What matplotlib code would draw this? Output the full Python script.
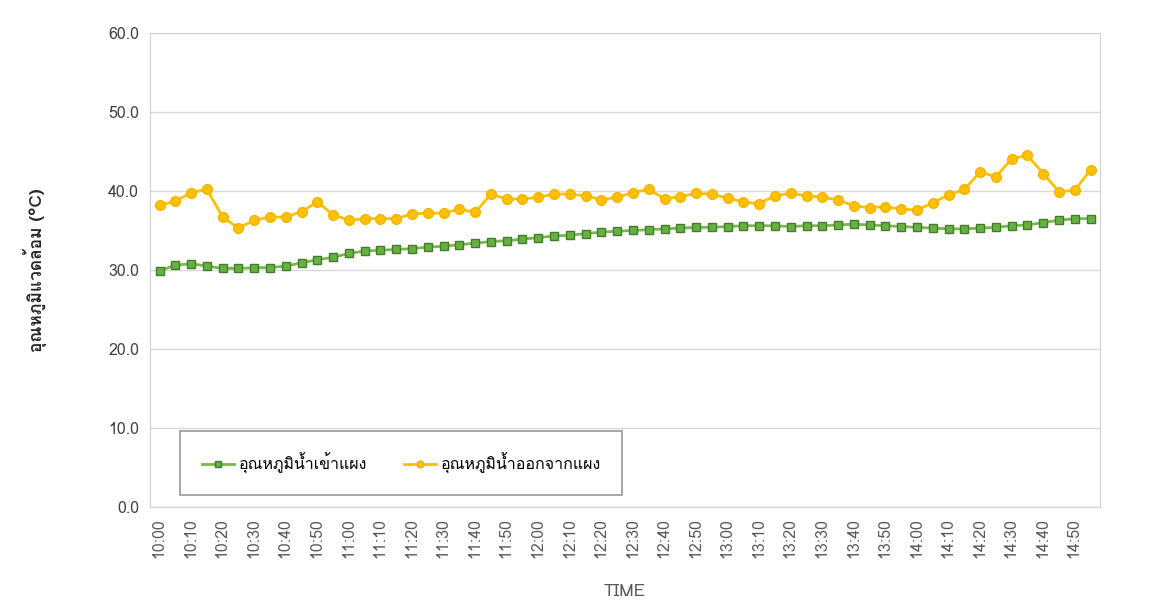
import numpy as np
import matplotlib
matplotlib.use("Agg")
import matplotlib.pyplot as plt
from matplotlib import font_manager
from matplotlib.ft2font import FT2Font

# time labels, every 5 min from 10:00 to 14:55
times = [f"{h}:{m:02d}" for h in range(10, 15) for m in range(0, 60, 5)]

t_in = [29.9, 30.6, 30.8, 30.5, 30.2, 30.2, 30.3, 30.3, 30.5, 30.9,
        31.3, 31.6, 32.1, 32.4, 32.5, 32.6, 32.7, 32.9, 33.0, 33.2,
        33.4, 33.6, 33.7, 33.9, 34.1, 34.3, 34.4, 34.6, 34.8, 34.9,
        35.0, 35.1, 35.2, 35.3, 35.4, 35.4, 35.5, 35.6, 35.6, 35.6,
        35.5, 35.6, 35.6, 35.7, 35.8, 35.7, 35.6, 35.5, 35.4, 35.3,
        35.2, 35.2, 35.3, 35.4, 35.6, 35.7, 36.0, 36.3, 36.5, 36.5]

t_out = [38.2, 38.7, 39.8, 40.2, 36.7, 35.3, 36.3, 36.7, 36.7, 37.4,
         38.6, 37.0, 36.3, 36.5, 36.5, 36.5, 37.1, 37.2, 37.2, 37.7,
         37.3, 39.6, 39.0, 39.0, 39.2, 39.6, 39.6, 39.4, 38.9, 39.2,
         39.8, 40.2, 39.0, 39.3, 39.7, 39.6, 39.1, 38.6, 38.4, 39.4,
         39.7, 39.4, 39.2, 38.9, 38.1, 37.9, 38.0, 37.7, 37.6, 38.5,
         39.5, 40.2, 42.4, 41.8, 44.1, 44.5, 42.2, 39.9, 40.1, 42.7]

label_in = "อุณหภูมิน้ำเข้าแผง"
label_out = "อุณหภูมิน้ำออกจากแผง"
ylabel = "อุณหภูมิแวดล้อม (°C)"


def thai_font():
    found = []
    for f in font_manager.fontManager.ttflist:
        try:
            if 0x0E2D in FT2Font(f.fname).get_charmap():
                found.append(f.name)
        except Exception:
            pass
    return found


thai = thai_font()
plt.rcParams['font.family'] = thai[:1] + ['DejaVu Sans']

x = np.arange(len(times))

fig = plt.figure(figsize=(11.56, 6.1), dpi=100)
ax = fig.add_axes([0.1298, 0.1689, 0.8218, 0.777])

ax.plot(x, t_in, color='#78B84E', lw=2, marker='s', ms=5.5,
        mfc='#6AAF43', mec='#3F7F28', label=label_in, zorder=3)
ax.plot(x, t_out, color='#FFC000', lw=2, marker='o', ms=7,
        mfc='#FFC000', mec='#F2B400', label=label_out, zorder=3)

ax.set_ylim(0, 60)
ax.set_yticks(np.arange(0, 61, 10))
ax.set_yticklabels([f"{v:.1f}" for v in np.arange(0, 61, 10)], fontsize=11.5, color='#404040')
ax.set_xlim(-0.6, len(times) - 0.4)
ax.set_xticks(x[::2])
ax.set_xticklabels(times[::2], rotation=90, fontsize=11.5, color='#595959')
ax.tick_params(length=0, pad=8)
ax.grid(axis='y', color='#D9D9D9', lw=1)
ax.set_axisbelow(True)
for s in ax.spines.values():
    s.set_color('#D0D0D0')

ax.set_ylabel(ylabel, fontsize=12.5, fontweight='bold', color='#262626', labelpad=44)
ax.set_xlabel("TIME", fontsize=12.5, color='#595959', labelpad=19)

leg = ax.legend(loc='lower left', bbox_to_anchor=(0.032, 0.025), ncol=2,
                fontsize=11.5, frameon=True, fancybox=False, edgecolor='#7F7F7F',
                borderpad=1.35, columnspacing=2.3, handlelength=2.0, handletextpad=0.3,
                markerscale=0.7, borderaxespad=0)
leg.get_frame().set_linewidth(1.2)
leg._legend_box.align = "left"
# a bit of extra left padding like the reference box
leg.set_bbox_to_anchor((0.032, 0.025))

fig.savefig("out.png", dpi=100)
